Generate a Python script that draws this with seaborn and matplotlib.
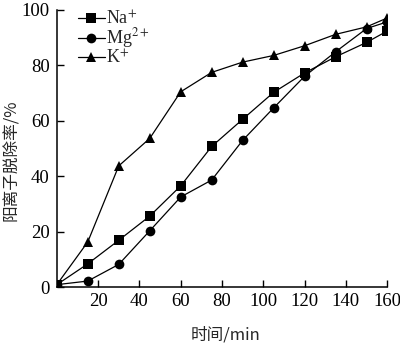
import numpy as np
import pandas as pd
import matplotlib
matplotlib.use("Agg")
import matplotlib.pyplot as plt
import seaborn as sns

time_min = [0, 15, 30, 45, 60, 75, 90, 105, 120, 135, 150, 160]
na_rate = [1, 8.5, 17, 25.7, 36.6, 50.8, 60.6, 70.3, 77.3, 83.1, 88.3, 92.4]
mg_rate = [1, 2.3, 8.3, 20.4, 32.6, 38.7, 53.0, 64.7, 76.1, 84.9, 93.3, 95.7]
k_rate = [1, 16.4, 43.8, 53.7, 70.5, 77.5, 81.2, 83.6, 87.1, 91.2, 93.9, 97.1]
ion_labels = [r"Na$^{+}$", r"Mg$^{2+}$", r"K$^{+}$"]
x_ticks = [20, 40, 60, 80, 100, 120, 140, 160]
y_ticks = [0, 20, 40, 60, 80, 100]

df = pd.concat([
    pd.DataFrame({"t": time_min, "r": vals, "ion": lab})
    for vals, lab in zip([na_rate, mg_rate, k_rate], ion_labels)
])

sns.set_theme(style="ticks")
plt.rcParams["font.family"] = ["Liberation Serif", "Noto Sans CJK SC"]
plt.rcParams["mathtext.fontset"] = "stix"

fig = plt.figure(figsize=(4.0, 3.43), dpi=100)
ax = fig.add_axes([0.142, 0.162, 0.826, 0.809])

sns.lineplot(data=df, x="t", y="r", hue="ion", style="ion",
             palette=["black"] * 3, markers=["s", "o", "^"], dashes=False,
             markersize=7, linewidth=0.9, markeredgewidth=0, ax=ax)

ax.set_xlim(0, 160)
ax.set_ylim(0, 100)
ax.set_xticks(x_ticks)
ax.set_yticks(y_ticks)
ax.tick_params(direction="in", length=5, width=1, labelsize=13.5, colors="black")
ax.tick_params(axis="x", pad=4)
ax.tick_params(axis="y", pad=5)
for s in ["top", "right"]:
    ax.spines[s].set_visible(False)
for s in ["left", "bottom"]:
    ax.spines[s].set_linewidth(1.1)
    ax.spines[s].set_color("black")

ax.set_xlabel("时间/min", fontsize=12, family=["Noto Sans CJK SC"])
ax.set_ylabel("阳离子脱除率/%", fontsize=12, family=["Noto Sans CJK SC"])
ax.xaxis.set_label_coords(0.511, -0.14)
ax.yaxis.set_label_coords(-0.112, 0.459)

leg = ax.legend(loc="upper left", bbox_to_anchor=(0.03, 1.04), frameon=False,
                fontsize=13, handlelength=1.5, handletextpad=0.1,
                labelspacing=-0.1, borderaxespad=0.2)

fig.savefig("out.png", dpi=100)
